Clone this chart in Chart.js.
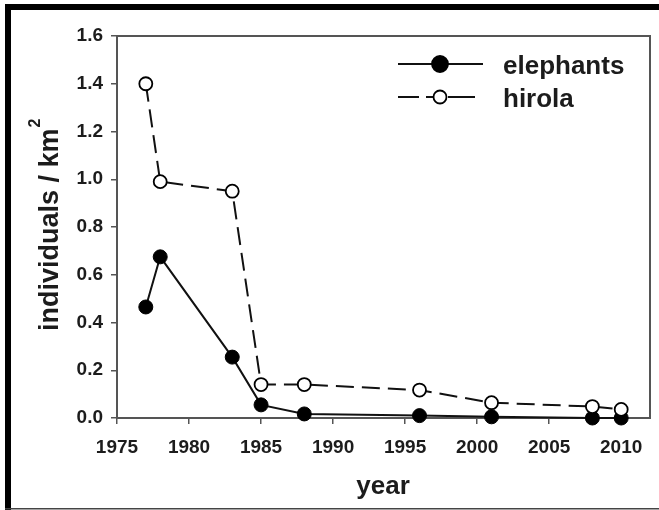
<!DOCTYPE html>
<html><head><meta charset="utf-8">
<script src="https://cdn.jsdelivr.net/npm/chart.js@4.4.1/dist/chart.umd.min.js"></script>
<style>html,body{margin:0;padding:0;background:#fff}#wrap{width:659px;height:510px;position:relative}canvas{display:block}</style>
</head><body><div id="wrap"><canvas id="c" width="659" height="510"></canvas></div>
<script>
const years = [1977, 1978, 1983, 1985, 1988, 1996, 2001, 2008, 2010];
const elephants = [0.465, 0.675, 0.255, 0.055, 0.017, 0.010, 0.005, 0.0, 0.0];
const hirola = [1.40, 0.99, 0.95, 0.14, 0.14, 0.117, 0.064, 0.048, 0.036];
const seriesNames = ['elephants', 'hirola'];
const xTicks = [1975, 1980, 1985, 1990, 1995, 2000, 2005, 2010];
const yTicks = [0.0, 0.2, 0.4, 0.6, 0.8, 1.0, 1.2, 1.4, 1.6];
const yTickLabels = ['0.0', '0.2', '0.4', '0.6', '0.8', '1.0', '1.2', '1.4', '1.6'];
const xTitle = 'year';
const yTitle = 'individuals / km';
const yTitleSup = '2';

const FONT = "'Liberation Sans', Arial, Helvetica, sans-serif";
const TXT = '#1c1c1c';
const AX = '#555555';

const decor = {
  id: 'decor',
  beforeDraw(chart) {
    const ctx = chart.ctx;
    ctx.save();
    ctx.fillStyle = '#fff';
    ctx.fillRect(0, 0, chart.width, chart.height);
    ctx.fillStyle = '#000';
    ctx.fillRect(5, 4, 654, 6);
    ctx.fillRect(5, 4, 6, 506);
    ctx.fillStyle = '#444';
    ctx.fillRect(5, 508, 654, 1.5);
    ctx.restore();
  },
  beforeDatasetsDraw(chart) {
    const ctx = chart.ctx, a = chart.chartArea;
    ctx.save();
    ctx.strokeStyle = AX;
    ctx.lineWidth = 2;
    ctx.strokeRect(a.left, a.top, a.right - a.left, a.bottom - a.top);
    ctx.restore();
  },
  afterDraw(chart) {
    const ctx = chart.ctx, a = chart.chartArea;
    ctx.save();
    ctx.fillStyle = TXT;
    // x title
    ctx.font = 'bold 26px ' + FONT;
    ctx.textAlign = 'center';
    ctx.textBaseline = 'alphabetic';
    ctx.fillText(xTitle, (a.left + a.right) / 2 - 0.5, 494);
    // y title
    ctx.save();
    ctx.translate(58, 331);
    ctx.rotate(-Math.PI / 2);
    ctx.textAlign = 'left';
    ctx.font = 'bold 27px ' + FONT;
    ctx.fillText(yTitle, 0, 0);
    const w = ctx.measureText(yTitle).width;
    ctx.font = 'bold 16px ' + FONT;
    ctx.fillText(yTitleSup, w + 1, -18);
    ctx.restore();
    // legend
    const mx = 440;
    const rows = [
      {y: 64, segs: [[398, 483]], filled: true, r: 8},
      {y: 97, segs: [[398, 419], [426, 440], [448, 475]], filled: false, r: 6.5}
    ];
    rows.forEach((row, i) => {
      ctx.save();
      ctx.strokeStyle = '#111';
      ctx.lineWidth = 2;
      row.segs.forEach(s => {
        ctx.beginPath();
        ctx.moveTo(s[0], row.y);
        ctx.lineTo(s[1], row.y);
        ctx.stroke();
      });
      ctx.beginPath();
      ctx.arc(mx, row.y, row.r, 0, Math.PI * 2);
      ctx.fillStyle = row.filled ? '#000' : '#fff';
      ctx.fill();
      ctx.lineWidth = 1.8;
      ctx.strokeStyle = '#000';
      ctx.stroke();
      ctx.restore();
      ctx.font = 'bold 26px ' + FONT;
      ctx.textAlign = 'left';
      ctx.textBaseline = 'alphabetic';
      ctx.fillStyle = TXT;
      ctx.fillText(seriesNames[i], 503, row.y + 9.5);
    });
    ctx.restore();
  }
};

new Chart(document.getElementById('c'), {
  type: 'line',
  data: {
    datasets: [
      {
        label: seriesNames[0],
        data: years.map((y, i) => ({x: y, y: elephants[i]})),
        borderColor: '#111', borderWidth: 2, backgroundColor: '#000',
        pointBackgroundColor: '#000', pointBorderColor: '#000', pointBorderWidth: 1,
        pointRadius: 7, tension: 0, clip: false, order: 1
      },
      {
        label: seriesNames[1],
        data: years.map((y, i) => ({x: y, y: hirola[i]})),
        borderColor: '#111', borderWidth: 2, borderDash: [18, 8],
        pointBackgroundColor: '#fff', pointBorderColor: '#000', pointBorderWidth: 1.8,
        pointRadius: 6.5, tension: 0, clip: false, order: 0
      }
    ]
  },
  options: {
    responsive: false, animation: false, devicePixelRatio: 1,
    layout: {padding: {top: 36, right: 9, left: 0, bottom: 0}},
    plugins: {legend: {display: false}, tooltip: {enabled: false}},
    scales: {
      x: {
        type: 'linear', min: 1975, max: 2012,
        afterBuildTicks: s => { s.ticks = xTicks.map(v => ({value: v})); },
        afterFit: s => { s.height = 92; },
        ticks: {
          callback: v => String(v), autoSkip: false, maxRotation: 0,
          font: {family: FONT, size: 19, weight: 'bold'}, color: TXT, padding: 12
        },
        grid: {drawOnChartArea: false, drawTicks: true, tickLength: 6, color: AX, lineWidth: 1.5},
        border: {display: true, color: AX, width: 2}
      },
      y: {
        type: 'linear', min: 0, max: 1.6,
        afterBuildTicks: s => { s.ticks = yTicks.map(v => ({value: v})); },
        afterFit: s => { s.width = 117; },
        ticks: {
          callback: (v, i) => yTickLabels[i], autoSkip: false,
          font: {family: FONT, size: 19, weight: 'bold'}, color: TXT, padding: 8
        },
        grid: {drawOnChartArea: false, drawTicks: true, tickLength: 6, color: AX, lineWidth: 1.5},
        border: {display: true, color: AX, width: 2}
      }
    }
  },
  plugins: [decor]
});
</script>
</body></html>
